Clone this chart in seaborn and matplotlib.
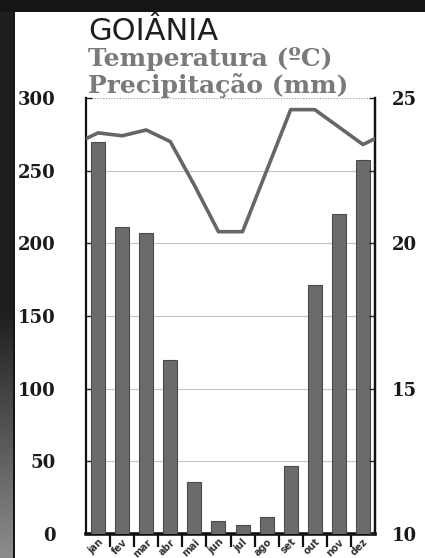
import numpy as np
import pandas as pd
import matplotlib
matplotlib.use("Agg")
import matplotlib.pyplot as plt
import seaborn as sns
from matplotlib.patches import Rectangle

# ---- data ----
months = ["jan", "fev", "mar", "abr", "mai", "jun", "jul", "ago", "set", "out", "nov", "dez"]
precip_mm = [270, 211, 207, 120, 36, 9, 6, 12, 47, 171, 220, 257]
temp_c = [23.8, 23.7, 23.9, 23.5, 22.0, 20.4, 20.4, 22.5, 24.6, 24.6, 24.0, 23.4]
left_ticks = [0, 50, 100, 150, 200, 250, 300]
right_ticks = [10, 15, 20, 25]
title = "GOIÂNIA"
sub1 = "Temperatura (ºC)"
sub2 = "Precipitação (mm)"

sns.set_theme(style="white")
plt.rcParams["font.family"] = ["DejaVu Sans"]

W, H = 425, 558
fig = plt.figure(figsize=(W / 100, H / 100), dpi=100)
fig.patch.set_facecolor("#151515")

# white sheet
fig.add_artist(Rectangle((15 / W, 0), 1 - 15 / W, 1 - 12 / H, transform=fig.transFigure,
                         facecolor="white", edgecolor="none", zorder=0))
# left gradient strip
gax = fig.add_axes([0, 0, 13 / W, 1 - 12 / H])
grad = np.concatenate([np.full(300, 0.12), np.linspace(0.12, 0.55, 246)])[:, None]
gax.imshow(grad, aspect="auto", cmap="gray", vmin=0, vmax=1, extent=[0, 1, 0, 1], origin="upper")
gax.axis("off")

ax = fig.add_axes([86 / W, 1 - 534 / H, (375 - 86) / W, (534 - 98) / H])
ax.set_facecolor("none")
df = pd.DataFrame({"mes": months, "mm": precip_mm})
sns.barplot(data=df, x="mes", y="mm", ax=ax, color="#6b6b6b", width=0.58,
            edgecolor="#4a4a4a", linewidth=0.8, saturation=1, zorder=3)
ax.set_xlim(-0.5, 11.5)
ax.set_ylim(0, 300)
ax.set_xlabel("")
ax.set_ylabel("")
ax.set_yticks(left_ticks)
ax.set_yticklabels([str(v) for v in left_ticks], fontsize=13, fontweight="bold",
                   family="DejaVu Serif", color="#1a1a1a")
ax.tick_params(axis="y", length=4, direction="in", pad=22, width=1, color="#222")
ax.yaxis.grid(True, color="#c4c4c4", linewidth=0.8, zorder=0)
gl = ax.get_ygridlines()
gl[-1].set_linestyle((0, (1, 1.5)))
gl[-1].set_color("#999999")
ax.set_axisbelow(True)

ax.set_xticks(np.arange(len(months)))
ax.set_xticklabels(months, rotation=45, ha="right", rotation_mode="anchor",
                   fontsize=7, fontweight="bold", color="#333")
ax.tick_params(axis="x", length=0, pad=2)
# boundary ticks (minor) pointing down
ax.set_xticks(np.arange(0.5, 11.5, 1), minor=True)
ax.tick_params(axis="x", which="minor", length=9, width=1.6, direction="out", color="#111", bottom=True)

for s in ["left", "right"]:
    ax.spines[s].set_color("#111")
    ax.spines[s].set_linewidth(1.6)
ax.spines["bottom"].set_color("#111")
ax.spines["bottom"].set_linewidth(2.6)
ax.spines["top"].set_visible(False)

# temperature line on twin axis
ax2 = ax.twinx()
edge = (temp_c[0] + temp_c[-1]) / 2
tx = [-0.5] + list(range(len(months))) + [11.5]
ty = [edge] + temp_c + [edge]
sns.lineplot(x=tx, y=ty, ax=ax2, color="#666666", linewidth=2.6, zorder=4)
ax2.set_ylim(10, 25)
ax2.set_xlim(-0.5, 11.5)
ax2.set_yticks(right_ticks)
ax2.set_yticklabels([str(v) for v in right_ticks], fontsize=13, fontweight="bold",
                    family="DejaVu Serif", color="#1a1a1a")
ax2.set_yticks([12.5, 17.5, 22.5], minor=True)
ax2.tick_params(axis="y", which="both", length=4, direction="in", pad=12, width=1, color="#222")
ax2.tick_params(axis="y", which="minor", right=True)
ax2.set_ylabel("")
for s in ["top", "left", "bottom"]:
    ax2.spines[s].set_visible(False)
ax2.spines["right"].set_color("#111")
ax2.spines["right"].set_linewidth(1.6)

# titles
fig.text(88 / W, 1 - 40 / H, title, fontsize=22, family="DejaVu Sans", fontweight="normal",
         color="#1e1e1e", ha="left", va="baseline")
fig.text(88 / W, 1 - 66 / H, sub1, fontsize=18, family="DejaVu Serif", fontweight="bold",
         color="#7a7a7a", ha="left", va="baseline")
fig.text(88 / W, 1 - 93 / H, sub2, fontsize=18, family="DejaVu Serif", fontweight="bold",
         color="#7a7a7a", ha="left", va="baseline")

fig.savefig("out.png", dpi=100, facecolor=fig.get_facecolor())
